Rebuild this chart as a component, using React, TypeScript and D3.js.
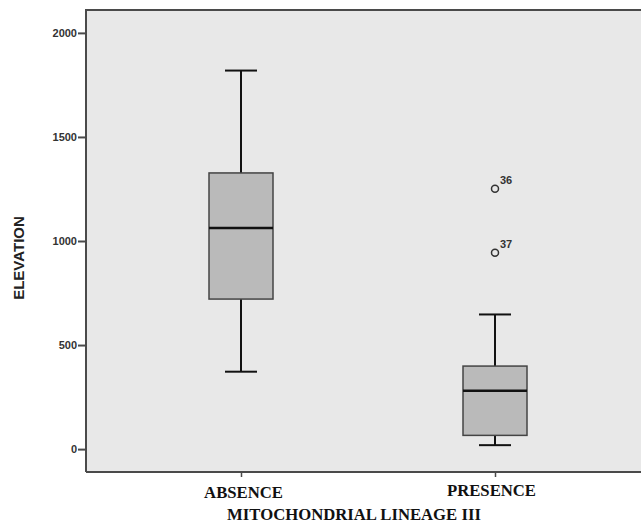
import React, { useEffect, useRef } from 'react'
import * as d3 from 'd3'

const categories = ['ABSENCE', 'PRESENCE']
const whiskerLow = [372, 19]
const q1 = [721, 66]
const median = [1062, 280]
const q3 = [1327, 399]
const whiskerHigh = [1819, 647]
const outlierGroup = ['PRESENCE', 'PRESENCE']
const outlierValue = [1251, 944]
const outlierLabel = ['36', '37']
const yTicks = [0, 500, 1000, 1500, 2000]

export default function App() {
  const ref = useRef<SVGSVGElement>(null)

  useEffect(() => {
    const width = 641
    const height = 523
    const margin = { top: 10, right: 0, bottom: 51, left: 86 }
    const svg = d3.select(ref.current)
    svg.selectAll('*').remove()
    svg.attr('width', width).attr('height', height)

    const x = d3.scalePoint<string>()
      .domain(categories)
      .range([241, 495])

    const y = d3.scaleLinear()
      .domain([-110, 2110])
      .range([height - margin.bottom, margin.top])

    // plot background
    svg.append('rect')
      .attr('x', margin.left)
      .attr('y', margin.top)
      .attr('width', width - margin.left - margin.right)
      .attr('height', height - margin.top - margin.bottom)
      .attr('fill', '#e8e8e8')

    const axisColor = '#4a4a4a'

    // y axis
    const gy = svg.append('g')
      .attr('transform', 'translate(' + margin.left + ',0)')
      .call(d3.axisLeft(y).tickValues(yTicks).tickSize(8).tickPadding(1).tickFormat(d3.format('d')))
    gy.select('.domain').remove()
    gy.selectAll('.tick line').attr('stroke', axisColor).attr('stroke-width', 2)
    gy.selectAll('.tick text')
      .attr('fill', '#333')
      .attr('font-family', 'Liberation Sans, Arial, sans-serif')
      .attr('font-size', 11)
      .attr('font-weight', 'bold')

    // x axis
    const gx = svg.append('g')
      .attr('transform', 'translate(0,' + (height - margin.bottom) + ')')
      .call(d3.axisBottom(x).tickSize(5).tickFormat(() => ''))
    gx.select('.domain').remove()
    gx.selectAll('.tick line').attr('stroke', axisColor).attr('stroke-width', 1.5)

    svg.selectAll('.cat')
      .data(categories)
      .join('text')
      .attr('class', 'cat')
      .attr('x', (d, i) => x(d)! + (i === 0 ? 2.5 : -3.5))
      .attr('y', (d, i) => i === 0 ? 498 : 496)
      .attr('text-anchor', 'middle')
      .attr('font-family', 'Liberation Serif, Times New Roman, serif')
      .attr('font-weight', 'bold')
      .attr('font-size', 16.7)
      .attr('fill', '#111')
      .text(d => d)

    // frame
    svg.append('path')
      .attr('d', 'M' + margin.left + ',' + (height - margin.bottom) + 'V' + margin.top + 'H' + width)
      .attr('fill', 'none').attr('stroke', axisColor).attr('stroke-width', 2)
    svg.append('line')
      .attr('x1', margin.left).attr('x2', width)
      .attr('y1', height - margin.bottom).attr('y2', height - margin.bottom)
      .attr('stroke', axisColor).attr('stroke-width', 2)

    // boxes
    const boxW = 64
    const capW = 32
    const g = svg.append('g')
    categories.forEach((c, i) => {
      const cx = x(c)!
      g.append('line')
        .attr('x1', cx).attr('x2', cx)
        .attr('y1', y(whiskerHigh[i])).attr('y2', y(q3[i]))
        .attr('stroke', '#111').attr('stroke-width', 2)
      g.append('line')
        .attr('x1', cx).attr('x2', cx)
        .attr('y1', y(q1[i])).attr('y2', y(whiskerLow[i]))
        .attr('stroke', '#111').attr('stroke-width', 2)
      g.append('line')
        .attr('x1', cx - capW / 2).attr('x2', cx + capW / 2)
        .attr('y1', y(whiskerHigh[i])).attr('y2', y(whiskerHigh[i]))
        .attr('stroke', '#111').attr('stroke-width', 2)
      g.append('line')
        .attr('x1', cx - capW / 2).attr('x2', cx + capW / 2)
        .attr('y1', y(whiskerLow[i])).attr('y2', y(whiskerLow[i]))
        .attr('stroke', '#111').attr('stroke-width', 2)
      g.append('rect')
        .attr('x', cx - boxW / 2)
        .attr('y', y(q3[i]))
        .attr('width', boxW)
        .attr('height', y(q1[i]) - y(q3[i]))
        .attr('fill', '#bababa')
        .attr('stroke', '#444')
        .attr('stroke-width', 1.5)
      g.append('line')
        .attr('x1', cx - boxW / 2).attr('x2', cx + boxW / 2)
        .attr('y1', y(median[i])).attr('y2', y(median[i]))
        .attr('stroke', '#111').attr('stroke-width', 2.5)
    })

    // outliers
    outlierValue.forEach((v, i) => {
      const cx = x(outlierGroup[i])!
      g.append('circle')
        .attr('cx', cx).attr('cy', y(v)).attr('r', 3.5)
        .attr('fill', 'none').attr('stroke', '#333').attr('stroke-width', 1.5)
      g.append('text')
        .attr('x', cx + 5).attr('y', y(v) - 5)
        .attr('font-family', 'Liberation Sans, Arial, sans-serif')
        .attr('font-size', 11).attr('font-weight', 'bold').attr('fill', '#333')
        .text(outlierLabel[i])
    })

    // axis titles
    svg.append('text')
      .attr('x', 354).attr('y', 520)
      .attr('text-anchor', 'middle')
      .attr('font-family', 'Liberation Serif, Times New Roman, serif')
      .attr('font-weight', 'bold').attr('font-size', 16.7).attr('fill', '#111')
      .text('MITOCHONDRIAL LINEAGE III')

    svg.append('text')
      .attr('transform', 'translate(24,258) rotate(-90)')
      .attr('text-anchor', 'middle')
      .attr('font-family', 'Liberation Sans, Arial, sans-serif')
      .attr('font-weight', 'bold').attr('font-size', 15).attr('fill', '#222')
      .text('ELEVATION')
  }, [])

  return (
    <svg ref={ref} style={{ position: 'absolute', left: 0, top: 0 }} />
  )
}
